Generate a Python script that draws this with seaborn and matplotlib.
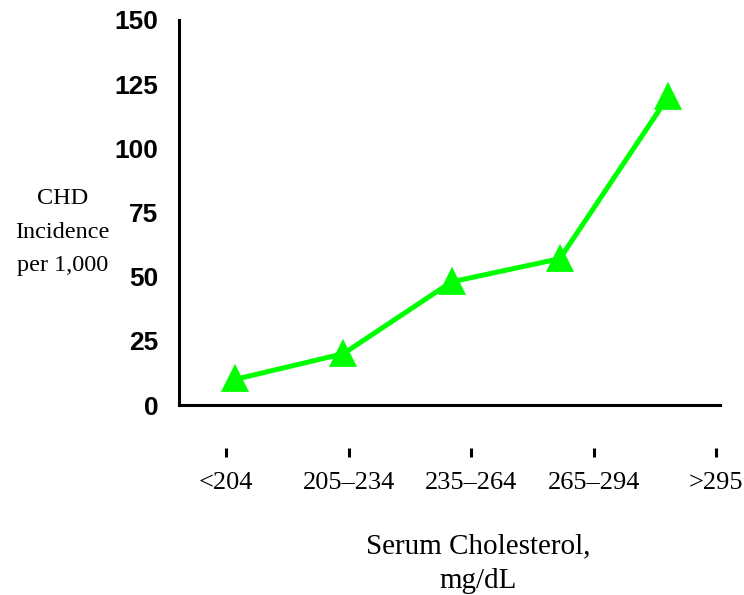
import matplotlib
matplotlib.use('Agg')
import matplotlib.pyplot as plt
import seaborn as sns
import pandas as pd

# CHD incidence by serum cholesterol group
chol_groups = ['<204', '205\u2013234', '235\u2013264', '265\u2013294', '>295']
chd_incidence = [10, 20, 48, 57, 120]
y_ticks = [0, 25, 50, 75, 100, 125, 150]

df = pd.DataFrame({'group': chol_groups, 'incidence': chd_incidence})

sns.set_style('white')
plt.rcParams['text.color'] = 'black'
plt.rcParams['axes.labelcolor'] = 'black'
plt.rcParams['xtick.color'] = 'black'
plt.rcParams['ytick.color'] = 'black'
serif = ['Liberation Serif', 'DejaVu Serif']
sans = ['Liberation Sans', 'DejaVu Sans']

fig = plt.figure(figsize=(7.44, 5.95), dpi=100)
ax = fig.add_axes([0.2406, 0.3193, 0.7271, 0.6471])

sns.pointplot(data=df, x='group', y='incidence', ax=ax, color='#00ff00',
              markers='^', markersize=16.5, linewidth=3.6, errorbar=None)
ax.set_xlim(-0.52, 4.48)
ax.set_ylim(0, 150)
ax.set_yticks(y_ticks)
ax.set_yticklabels([str(v) for v in y_ticks], fontfamily=sans,
                   fontweight='bold', fontsize=19, color='black')

for side in ['top', 'right']:
    ax.spines[side].set_visible(False)
for side in ['left', 'bottom']:
    ax.spines[side].set_linewidth(2.2)
    ax.spines[side].set_color('black')

ax.tick_params(axis='y', direction='out', length=5, width=2, pad=10, color='black')

# separate row of category ticks below the axis line
ax2 = ax.twiny()
ax2.set_xlim(-0.384, 4.03)
ax2.xaxis.set_ticks_position('bottom')
ax2.xaxis.set_label_position('bottom')
ax2.spines['bottom'].set_position(('outward', 31))
for side in ax2.spines:
    ax2.spines[side].set_color('none')
ax2.set_xticks(range(len(chol_groups)))
ax2.set_xticklabels(chol_groups, fontfamily=serif, fontsize=19, color='black')
ax2.tick_params(axis='x', direction='out', length=6.5, width=2.2, pad=11, color='black')

# twiny turns the main bottom ticks back on
ax.tick_params(axis='x', bottom=False, labelbottom=False)

ax.set_ylabel('CHD\nIncidence\nper 1,000', rotation=0, fontfamily=serif,
              fontsize=17.5, ha='center', va='center', linespacing=1.78,
              color='black')
ax.yaxis.set_label_coords(-0.216, 0.449)
ax.set_xlabel('Serum Cholesterol,\nmg/dL', fontfamily=serif, fontsize=21,
              ha='center', va='center', linespacing=1.45, color='black')
ax.xaxis.set_label_coords(0.553, -0.412)

fig.savefig('out.png', dpi=100)
